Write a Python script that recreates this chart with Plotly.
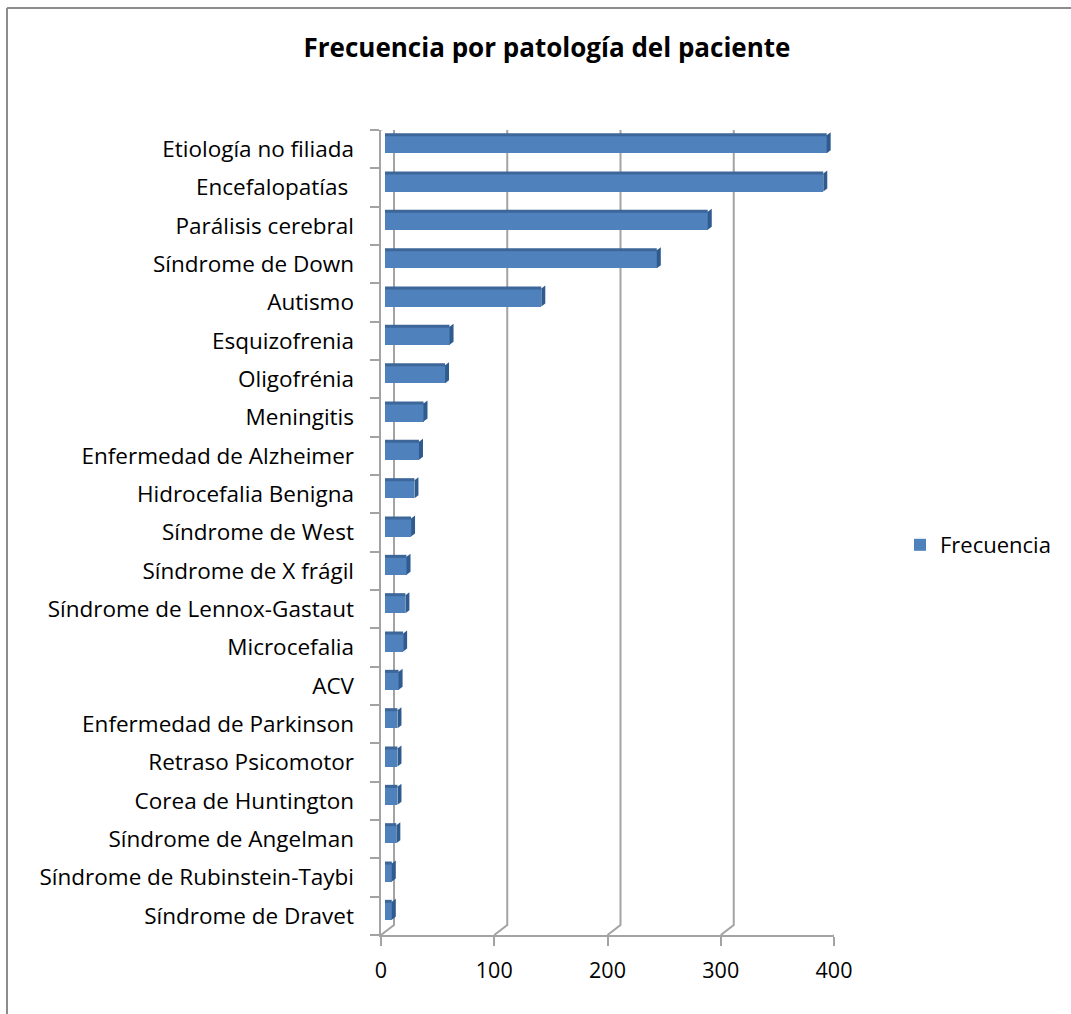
import plotly.graph_objects as go

# Pathologies, listed from top to bottom of the chart
categories = [
    "Etiología no filiada", "Encefalopatías\u00a0", "Parálisis cerebral",
    "Síndrome de Down", "Autismo", "Esquizofrenia", "Oligofrénia",
    "Meningitis", "Enfermedad de Alzheimer", "Hidrocefalia Benigna",
    "Síndrome de West", "Síndrome de X frágil", "Síndrome de Lennox-Gastaut",
    "Microcefalia", "ACV", "Enfermedad de Parkinson", "Retraso Psicomotor",
    "Corea de Huntington", "Síndrome de Angelman",
    "Síndrome de Rubinstein-Taybi", "Síndrome de Dravet",
]
frecuencia = [390, 387, 285, 240, 138, 57, 53, 34, 30, 26, 23, 19, 18, 16,
              12, 11, 11, 11, 10, 6, 6]
x_ticks = [0, 100, 200, 300, 400]

W, H = 1071, 1014
FONT = "Open Sans"
GRID = "#A3A3A3"
FACE = "#4F81BD"
SIDE = "#2F5B8F"
TOP = "#3D6699"

# Front plane of the 3D box (pixels)
px_left, px_right = 381, 834
py_top, py_bottom = 130, 935
# Bars sit a little deeper in the box: shifted right and up
bar_dx, bar_dy = 4, 5
depth_dx, depth_dy = 13, 10
back_top = 122

n = len(categories)
centers = list(range(n))
bounds = [k - 0.5 for k in range(n + 1)]

fig = go.Figure()

fig.add_trace(go.Bar(
    x=frecuencia, y=centers, orientation="h",
    xaxis="x2", yaxis="y2",
    width=0.47, marker=dict(color=FACE, line=dict(width=0)),
    name="Frecuencia", showlegend=True,
))
# invisible carrier so the category-name axis is drawn
fig.add_trace(go.Scatter(
    x=[0] * n, y=centers, xaxis="x", yaxis="y3", mode="markers",
    marker=dict(opacity=0), hoverinfo="skip", showlegend=False,
))

shapes = []
# right end face and top face of each bar
for i, v in enumerate(frecuencia):
    shapes.append(dict(
        type="path", xref="x2", yref="y2",
        xsizemode="pixel", xanchor=v, ysizemode="pixel", yanchor=i,
        path="M0,-9 L4,-6 L4,12 L0,9 Z",
        fillcolor=SIDE, line=dict(width=0), layer="above",
    ))
    shapes.append(dict(
        type="line", xref="x2", yref="y2",
        x0=0, x1=v, ysizemode="pixel", yanchor=i, y0=9.5, y1=9.5,
        line=dict(color=TOP, width=3), layer="above",
    ))

# back wall gridlines with floor diagonals
for t in x_ticks:
    shapes.append(dict(
        type="path", xref="x", yref="y",
        xsizemode="pixel", xanchor=t, ysizemode="pixel", yanchor=n - 0.5,
        path=f"M0,0 L{depth_dx},{depth_dy} L{depth_dx},{py_bottom - back_top}",
        line=dict(color=GRID, width=2), layer="below",
    ))
# top edge of the left wall
shapes.append(dict(
    type="path", xref="x", yref="y",
    xsizemode="pixel", xanchor=0, ysizemode="pixel", yanchor=n - 0.5,
    path=f"M0,{py_bottom - py_top} L{depth_dx},{py_bottom - back_top}",
    line=dict(color=GRID, width=2), layer="below",
))
# chart frame
shapes.append(dict(type="line", xref="paper", yref="paper",
                   x0=7 / W, x1=1.0, y0=1 - 8 / H, y1=1 - 8 / H,
                   line=dict(color="#8C8C8C", width=2)))
shapes.append(dict(type="line", xref="paper", yref="paper",
                   x0=7 / W, x1=7 / W, y0=0, y1=1 - 8 / H,
                   line=dict(color="#8C8C8C", width=2)))

xdom = [px_left / W, px_right / W]
ydom = [1 - py_bottom / H, 1 - py_top / H]
xdom2 = [(px_left + bar_dx) / W, (px_right + bar_dx) / W]
ydom2 = [1 - (py_bottom - bar_dy) / H, 1 - (py_top - bar_dy) / H]

fig.update_layout(
    width=W, height=H,
    margin=dict(l=0, r=0, t=0, b=0, autoexpand=False),
    paper_bgcolor="white", plot_bgcolor="rgba(0,0,0,0)",
    font=dict(family=FONT, size=21, color="black"),
    title=dict(text="<b>Frecuencia por patología del paciente</b>",
               x=547 / W, xanchor="center", y=1 - 48 / H, yanchor="middle",
               font=dict(family=FONT, size=26, color="black")),
    xaxis=dict(domain=xdom, range=[0, 400], tickvals=x_ticks,
               showgrid=False, zeroline=False, showline=True,
               linecolor=GRID, linewidth=2, ticks="outside", ticklen=9,
               tickcolor=GRID, tickwidth=2, ticklabelstandoff=6,
               tickfont=dict(size=21.5), fixedrange=True),
    # category boundary ticks on the front left axis
    yaxis=dict(domain=ydom, range=[n - 0.5, -0.5],
               tickvals=bounds, ticktext=[""] * len(bounds),
               showgrid=False, zeroline=False, showline=True,
               linecolor=GRID, linewidth=2, ticks="outside", ticklen=9,
               tickcolor=GRID, tickwidth=2, fixedrange=True),
    # category names
    yaxis3=dict(overlaying="y", anchor="x", side="left",
                range=[n - 0.5, -0.5], tickvals=centers, ticktext=categories,
                showgrid=False, zeroline=False, showline=False, ticks="",
                ticklabelstandoff=26, tickfont=dict(size=22.5),
                fixedrange=True),
    xaxis2=dict(domain=xdom2, range=[0, 400], anchor="y2", visible=False,
                fixedrange=True),
    yaxis2=dict(domain=ydom2, range=[n - 0.5, -0.5], anchor="x2",
                visible=False, fixedrange=True),
    legend=dict(xref="container", yref="container",
                x=900 / W, y=1 - 545 / H, xanchor="left", yanchor="middle",
                font=dict(size=22), bgcolor="rgba(0,0,0,0)"),
    shapes=shapes,
    bargap=0,
)

fig.write_html("out.html")
